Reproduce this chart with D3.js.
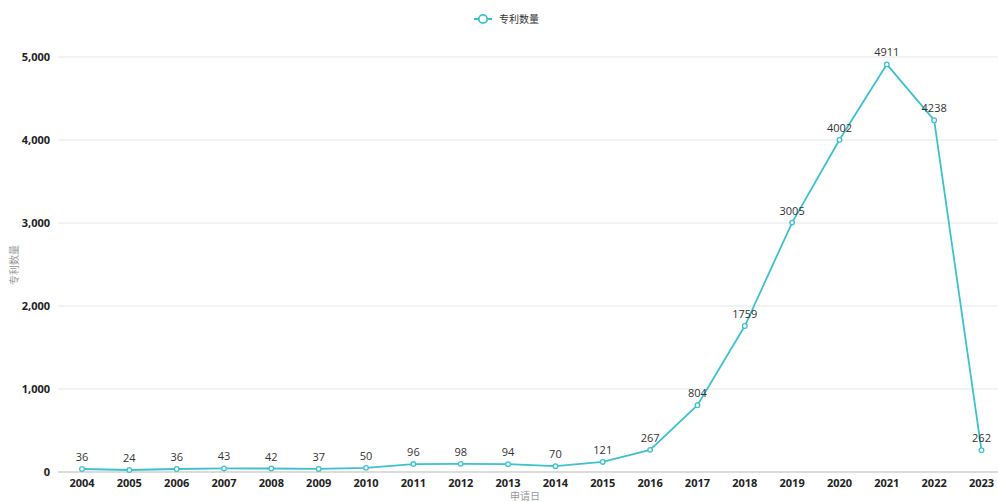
<!DOCTYPE html>
<html>
<head>
<meta charset="utf-8">
<script src="https://cdn.jsdelivr.net/npm/d3@7"></script>
<style>
  html, body { margin: 0; padding: 0; background: #fff; }
  svg { display: block; font-family: "Noto Sans CJK SC", "Open Sans", sans-serif; }
</style>
</head>
<body>
<svg id="chart" width="998" height="502"></svg>
<script>
// Patent counts by application year
const years = ["2004","2005","2006","2007","2008","2009","2010","2011","2012","2013",
               "2014","2015","2016","2017","2018","2019","2020","2021","2022","2023"];
const counts = [36, 24, 36, 43, 42, 37, 50, 96, 98, 94, 70, 121, 267, 804, 1759, 3005, 4002, 4911, 4238, 262];
const yTicks = [0, 1000, 2000, 3000, 4000, 5000];
const seriesName = "专利数量";
const xTitle = "申请日";
const yTitle = "专利数量";

const color = "#3cc2cd";
const svg = d3.select("#chart");

const x = d3.scalePoint().domain(years).range([82, 981.5]);
const y = d3.scaleLinear().domain([0, 5000]).range([472, 57]);
const gridLeft = 58, gridRight = 1006;

// horizontal grid lines
svg.append("g").selectAll("line").data(yTicks.filter(d => d > 0)).join("line")
  .attr("x1", gridLeft).attr("x2", gridRight)
  .attr("y1", d => y(d)).attr("y2", d => y(d))
  .attr("stroke", "#e6e6e6").attr("stroke-width", 1);

// baseline
svg.append("line")
  .attr("x1", gridLeft).attr("x2", gridRight)
  .attr("y1", y(0)).attr("y2", y(0))
  .attr("stroke", "#d0d0d0").attr("stroke-width", 1.5);

// y axis labels
const fmt = d3.format(",");
svg.append("g").selectAll("text").data(yTicks).join("text")
  .attr("x", 50).attr("y", d => y(d)).attr("dy", "0.35em")
  .attr("text-anchor", "end")
  .attr("font-size", 11).attr("font-weight", "bold").attr("fill", "#222")
  .style("font-family", "'Open Sans', sans-serif")
  .text(d => fmt(d));

// x axis labels
svg.append("g").selectAll("text").data(years).join("text")
  .attr("x", d => x(d)).attr("y", 487)
  .attr("text-anchor", "middle")
  .attr("font-size", 11).attr("font-weight", "bold").attr("fill", "#222")
  .style("font-family", "'Open Sans', sans-serif")
  .text(d => d);

// axis titles
svg.append("text")
  .attr("x", 525).attr("y", 500)
  .attr("text-anchor", "middle").attr("font-size", 10).attr("fill", "#999")
  .text(xTitle);
svg.append("text")
  .attr("transform", `translate(18,${265}) rotate(-90)`)
  .attr("text-anchor", "middle").attr("font-size", 10).attr("fill", "#999")
  .text(yTitle);

// line
const pts = years.map((d, i) => ({ year: d, value: counts[i] }));
svg.append("path").datum(pts)
  .attr("fill", "none").attr("stroke", color).attr("stroke-width", 1.8)
  .attr("d", d3.line().x(d => x(d.year)).y(d => y(d.value)));

// point markers
svg.append("g").selectAll("circle").data(pts).join("circle")
  .attr("cx", d => x(d.year)).attr("cy", d => y(d.value)).attr("r", 2.3)
  .attr("fill", "#fff").attr("stroke", color).attr("stroke-width", 1.3);

// value labels
svg.append("g").selectAll("text").data(pts).join("text")
  .attr("x", d => x(d.year)).attr("y", d => y(d.value) - 8)
  .attr("text-anchor", "middle")
  .attr("font-size", 11).attr("fill", "#333")
  .style("font-family", "'Open Sans', sans-serif")
  .text(d => d.value);

// legend
const lg = svg.append("g").attr("transform", "translate(474,19)");
lg.append("line").attr("x1", 0).attr("x2", 18).attr("y1", 0).attr("y2", 0)
  .attr("stroke", color).attr("stroke-width", 2);
lg.append("circle").attr("cx", 9).attr("cy", 0).attr("r", 4.2)
  .attr("fill", "#fff").attr("stroke", color).attr("stroke-width", 1.8);
lg.append("text").attr("x", 25).attr("y", 0).attr("dy", "0.35em")
  .attr("font-size", 10).attr("fill", "#333").text(seriesName);
</script>
</body>
</html>
